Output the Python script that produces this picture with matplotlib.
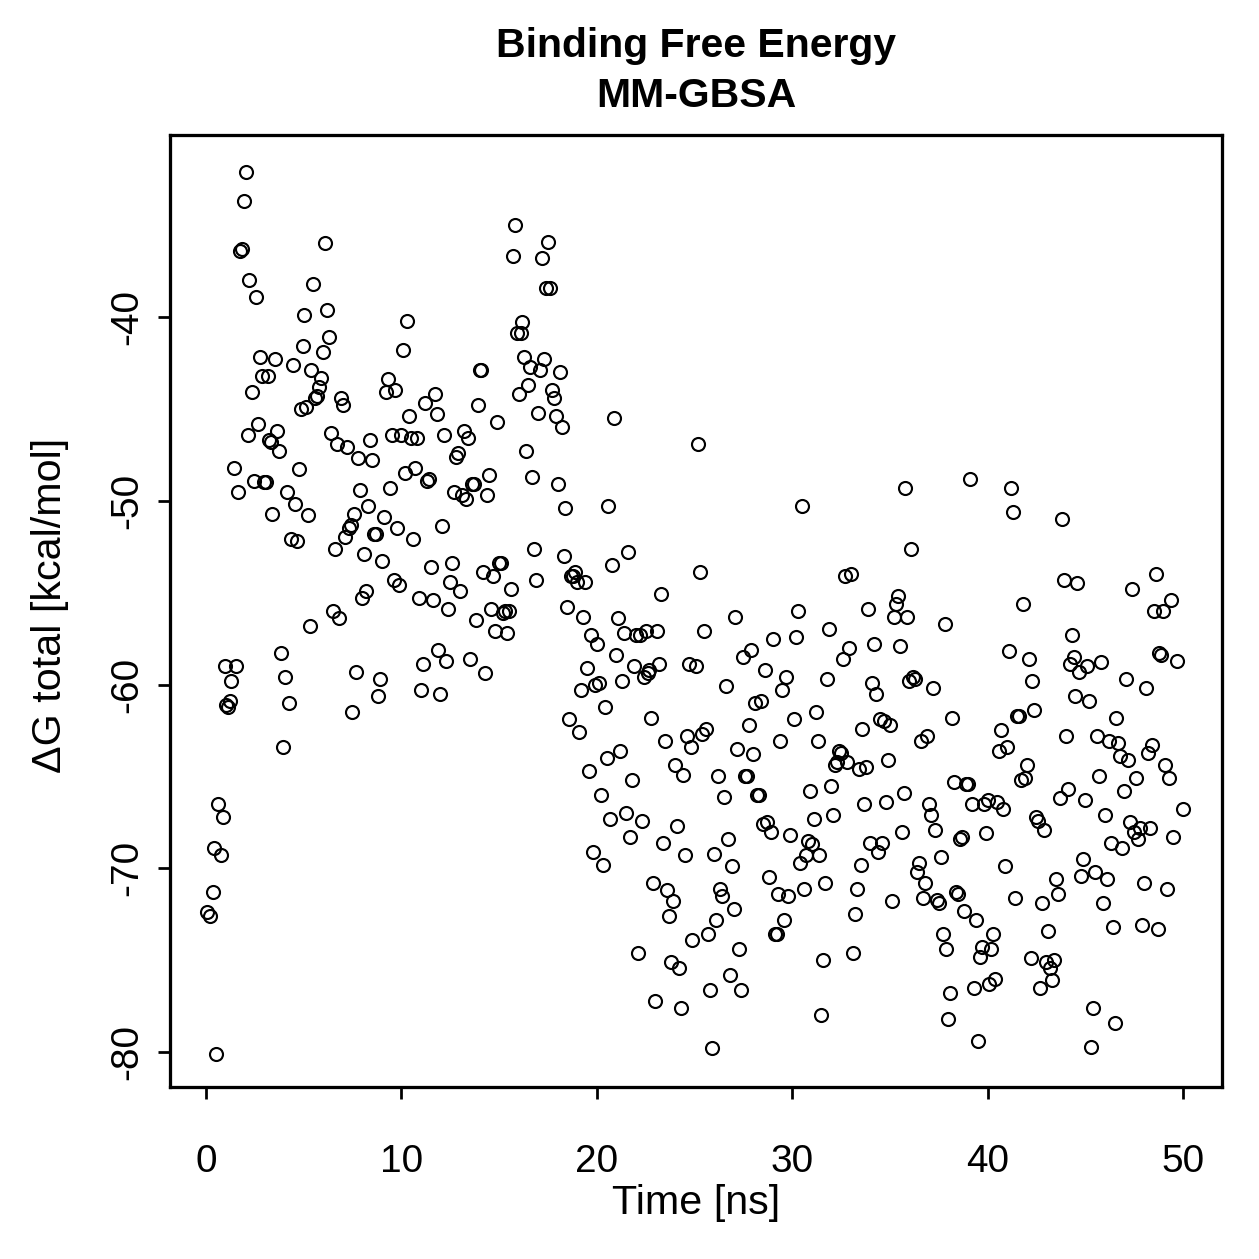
import matplotlib
matplotlib.use("Agg")
import matplotlib.pyplot as plt
import numpy as np

# Time [ns] and dG total [kcal/mol] in 5 ns blocks
t_00 = [0.05, 0.2, 0.35, 0.4, 0.5, 0.6, 0.75, 0.85, 0.95, 1.05, 1.15, 1.25, 1.3, 1.45, 1.55, 1.65,
        1.75, 1.85, 1.95, 2.05, 2.15, 2.2, 2.35, 2.45, 2.55, 2.65, 2.75, 2.85, 2.95, 3.05, 3.15, 3.25,
        3.35, 3.4, 3.55, 3.65, 3.75, 3.85, 3.95, 4.05, 4.15, 4.25, 4.35, 4.45, 4.55, 4.65, 4.75, 4.85, 4.95]
dg_00 = [-72.4, -72.6, -71.3, -68.9, -80.1, -66.5, -69.3, -67.2, -59.0, -61.1, -61.2, -60.9, -59.8, -48.2,
         -59.0, -49.5, -36.4, -36.3, -33.7, -32.1, -46.4, -38.0, -44.1, -48.9, -38.9, -45.8, -42.2, -43.2,
         -49.0, -49.0, -43.2, -46.7, -46.8, -50.7, -42.3, -46.2, -47.3, -58.3, -63.4, -59.6, -49.5, -61.0,
         -52.1, -42.6, -50.2, -52.2, -48.3, -45.0, -41.6]

t_05 = [5.0, 5.1, 5.2, 5.3, 5.4, 5.5, 5.6, 5.7, 5.8, 5.9, 6.0, 6.1, 6.2, 6.3, 6.4, 6.5, 6.6, 6.7, 6.8, 6.9,
        7.0, 7.1, 7.2, 7.3, 7.4, 7.5, 7.6, 7.7, 7.8, 7.9, 8.0, 8.1, 8.2, 8.3, 8.4, 8.5, 8.6, 8.7, 8.8, 8.9,
        9.0, 9.1, 9.2, 9.3, 9.4, 9.5, 9.6, 9.7, 9.8, 9.9]
dg_05 = [-39.9, -44.9, -50.8, -56.8, -42.9, -38.2, -44.4, -44.3, -43.8, -43.3, -41.9, -36.0, -39.6, -41.1,
         -46.3, -56.0, -52.6, -46.9, -56.4, -44.4, -44.8, -52.0, -47.1, -51.5, -51.3, -61.5, -50.7, -59.3,
         -47.7, -49.4, -55.3, -52.9, -54.9, -50.3, -46.7, -47.8, -51.8, -51.8, -60.6, -59.7, -53.3, -50.9,
         -44.1, -43.4, -49.3, -46.4, -54.3, -44.0, -51.5, -54.6]

t_10 = [10.0, 10.1, 10.2, 10.3, 10.4, 10.5, 10.6, 10.7, 10.8, 10.9, 11.0, 11.1, 11.2, 11.3, 11.4, 11.5,
        11.6, 11.7, 11.8, 11.9, 12.0, 12.1, 12.2, 12.3, 12.4, 12.5, 12.6, 12.7, 12.8, 12.9, 13.0, 13.1,
        13.2, 13.3, 13.4, 13.5, 13.6, 13.7, 13.8, 13.9, 14.0, 14.1, 14.2, 14.3, 14.4, 14.5, 14.6, 14.7,
        14.8, 14.9]
dg_10 = [-46.4, -41.8, -48.5, -40.2, -45.4, -46.6, -52.1, -48.2, -46.6, -55.3, -60.3, -58.9, -44.7, -48.9,
         -48.8, -53.6, -55.4, -44.2, -45.3, -58.1, -60.5, -51.4, -46.4, -58.7, -55.9, -54.4, -53.4, -49.5,
         -47.6, -47.4, -54.9, -49.7, -46.2, -49.9, -46.6, -58.6, -49.1, -49.1, -56.5, -44.8, -42.9, -42.9,
         -53.9, -59.4, -49.7, -48.6, -55.9, -54.1, -57.1, -45.7]

t_15 = [15.0, 15.1, 15.2, 15.3, 15.4, 15.5, 15.6, 15.7, 15.8, 15.9, 16.0, 16.1, 16.2, 16.3, 16.4, 16.5,
        16.6, 16.7, 16.8, 16.9, 17.0, 17.1, 17.2, 17.3, 17.4, 17.5, 17.6, 17.7, 17.8, 17.9, 18.0, 18.1,
        18.2, 18.3, 18.4, 18.5, 18.6, 18.7, 18.8, 18.9, 19.0, 19.1, 19.2, 19.3, 19.4, 19.5, 19.6, 19.7,
        19.8, 19.9]
dg_15 = [-53.4, -53.4, -56.1, -56.0, -57.2, -56.0, -54.8, -36.7, -35.0, -40.9, -44.2, -40.9, -40.3, -42.2,
         -47.3, -43.7, -42.7, -48.7, -52.6, -54.3, -45.2, -42.9, -36.8, -42.3, -38.4, -35.9, -38.4, -44.0,
         -44.4, -45.4, -49.1, -43.0, -46.0, -53.0, -50.4, -55.8, -61.9, -54.1, -54.1, -53.9, -54.4, -62.6,
         -60.3, -56.3, -54.4, -59.1, -64.7, -57.3, -69.1, -60.0]

t_20 = [20.0, 20.1, 20.2, 20.3, 20.4, 20.5, 20.6, 20.7, 20.8, 20.9, 21.0, 21.1, 21.2, 21.3, 21.4, 21.5,
        21.6, 21.7, 21.8, 21.9, 22.0, 22.1, 22.2, 22.3, 22.4, 22.5, 22.6, 22.7, 22.8, 22.9, 23.0, 23.1,
        23.2, 23.3, 23.4, 23.5, 23.6, 23.7, 23.8, 23.9, 24.0, 24.1, 24.2, 24.3, 24.4, 24.5, 24.6, 24.7,
        24.8, 24.9]
dg_20 = [-57.8, -59.9, -66.0, -69.8, -61.2, -64.0, -50.3, -67.3, -53.5, -45.5, -58.4, -56.4, -63.6, -59.8,
         -57.2, -67.0, -52.8, -68.3, -65.2, -59.0, -57.3, -74.6, -57.3, -67.4, -59.6, -57.1, -59.4, -59.2,
         -61.8, -70.8, -77.2, -57.1, -58.9, -55.1, -68.6, -63.1, -71.2, -72.6, -75.1, -71.8, -64.4, -67.7,
         -75.4, -77.6, -64.9, -69.3, -62.8, -58.9, -63.4, -73.9]

t_25 = [25.1, 25.2, 25.3, 25.4, 25.5, 25.6, 25.7, 25.8, 25.9, 26.0, 26.1, 26.2, 26.3, 26.4, 26.5, 26.6,
        26.7, 26.8, 26.9, 27.0, 27.1, 27.2, 27.3, 27.4, 27.5, 27.6, 27.7, 27.8, 27.9, 28.0, 28.1, 28.2,
        28.3, 28.4, 28.5, 28.6, 28.7, 28.8, 28.9, 29.0, 29.1, 29.2, 29.3, 29.4, 29.5, 29.6, 29.7, 29.8,
        29.9]
dg_25 = [-59.0, -46.9, -53.9, -62.7, -57.1, -62.4, -73.6, -76.6, -79.8, -69.2, -72.8, -65.0, -71.1, -71.5,
         -66.1, -60.1, -68.4, -75.8, -69.9, -72.2, -56.3, -63.5, -74.4, -76.6, -58.5, -65.0, -65.0, -62.2,
         -58.1, -63.8, -61.0, -66.0, -66.0, -60.9, -67.6, -59.2, -67.5, -70.5, -68.0, -57.5, -73.6, -73.6,
         -71.4, -63.1, -60.3, -72.8, -59.6, -71.5, -68.2]

t_30 = [30.1, 30.2, 30.3, 30.4, 30.5, 30.6, 30.7, 30.8, 30.9, 31.0, 31.1, 31.2, 31.3, 31.4, 31.5, 31.6,
        31.7, 31.8, 31.9, 32.0, 32.1, 32.2, 32.3, 32.4, 32.5, 32.6, 32.7, 32.8, 32.9, 33.0, 33.1, 33.2,
        33.3, 33.4, 33.5, 33.6, 33.7, 33.8, 33.9, 34.0, 34.1, 34.2, 34.3, 34.4, 34.5, 34.6, 34.7, 34.8,
        34.9]
dg_30 = [-61.9, -57.4, -56.0, -69.7, -50.3, -71.1, -69.3, -68.5, -65.8, -68.7, -67.3, -61.5, -63.1, -69.3,
         -78.0, -75.0, -70.8, -59.7, -57.0, -65.5, -67.1, -64.4, -64.2, -63.6, -63.7, -58.6, -54.1, -64.2,
         -58.0, -54.0, -74.6, -72.5, -71.1, -64.6, -69.8, -62.4, -66.5, -64.5, -55.9, -68.6, -59.9, -57.8,
         -60.5, -69.1, -61.9, -68.6, -62.0, -66.4, -64.1]

t_35 = [35.0, 35.1, 35.2, 35.3, 35.4, 35.5, 35.6, 35.7, 35.8, 35.9, 36.0, 36.1, 36.2, 36.3, 36.4, 36.5,
        36.6, 36.7, 36.8, 36.9, 37.0, 37.1, 37.2, 37.3, 37.4, 37.5, 37.6, 37.7, 37.8, 37.9, 38.0, 38.1,
        38.2, 38.3, 38.4, 38.5, 38.6, 38.7, 38.8, 38.9, 39.0, 39.1, 39.2, 39.3, 39.4, 39.5, 39.6, 39.7,
        39.8, 39.9]
dg_35 = [-62.2, -71.8, -56.3, -55.6, -55.2, -57.9, -68.0, -65.9, -49.3, -56.3, -59.8, -52.6, -59.6, -59.7,
         -70.2, -69.7, -63.1, -71.6, -70.8, -62.8, -66.5, -67.1, -60.2, -67.9, -71.7, -71.9, -69.4, -73.6,
         -56.7, -74.4, -78.2, -76.8, -61.8, -65.3, -71.3, -71.4, -68.4, -68.3, -72.3, -65.4, -65.4, -48.8,
         -66.5, -76.5, -72.8, -79.4, -74.8, -74.3, -66.5, -68.1]

t_40 = [40.0, 40.1, 40.2, 40.3, 40.4, 40.5, 40.6, 40.7, 40.8, 40.9, 41.0, 41.1, 41.2, 41.3, 41.4, 41.5,
        41.6, 41.7, 41.8, 41.9, 42.0, 42.1, 42.2, 42.3, 42.4, 42.5, 42.6, 42.7, 42.8, 42.9, 43.0, 43.1,
        43.2, 43.3, 43.4, 43.5, 43.6, 43.7, 43.8, 43.9, 44.0, 44.1, 44.2, 44.3, 44.4, 44.5, 44.6, 44.7,
        44.8, 44.9]
dg_40 = [-66.3, -76.3, -74.4, -73.6, -76.0, -66.4, -63.6, -62.5, -66.8, -69.9, -63.4, -58.2, -49.3, -50.6,
         -71.6, -61.7, -61.7, -65.2, -55.6, -65.1, -64.4, -58.6, -74.9, -59.8, -61.4, -67.2, -67.4, -76.5,
         -71.9, -67.9, -75.1, -73.4, -75.4, -76.1, -75.0, -70.6, -71.4, -66.2, -51.0, -54.3, -62.8, -65.7,
         -58.9, -57.3, -58.5, -60.6, -54.5, -59.3, -70.4, -69.5]

t_45 = [45.0, 45.1, 45.2, 45.3, 45.4, 45.5, 45.6, 45.7, 45.8, 45.9, 46.0, 46.1, 46.2, 46.3, 46.4, 46.5,
        46.6, 46.7, 46.8, 46.9, 47.0, 47.1, 47.2, 47.3, 47.4, 47.5, 47.6, 47.7, 47.8, 47.9, 48.0, 48.1,
        48.2, 48.3, 48.4, 48.5, 48.6, 48.7, 48.8, 48.9, 49.0, 49.1, 49.2, 49.3, 49.4, 49.5, 49.7, 50.0]
dg_45 = [-66.3, -59.0, -60.9, -79.7, -77.6, -70.2, -62.8, -65.0, -58.8, -71.9, -67.1, -70.6, -63.1, -68.6,
         -73.2, -78.4, -61.8, -63.2, -63.9, -68.9, -65.8, -59.7, -64.1, -67.5, -54.8, -68.0, -65.1, -68.4,
         -67.8, -73.1, -70.8, -60.2, -63.7, -67.8, -63.3, -56.0, -54.0, -73.3, -58.3, -58.4, -56.0, -64.4,
         -71.1, -65.1, -55.4, -68.3, -58.7, -66.8]

time = np.concatenate([t_00, t_05, t_10, t_15, t_20, t_25, t_30, t_35, t_40, t_45])
dg = np.concatenate([dg_00, dg_05, dg_10, dg_15, dg_20, dg_25, dg_30, dg_35, dg_40, dg_45])

plt.rcParams['font.family'] = ['Liberation Sans', 'DejaVu Sans']
plt.rcParams['axes.unicode_minus'] = False

W, H = 1259, 1259
fig = plt.figure(figsize=(W / 180, H / 180), dpi=180)
ax = fig.add_axes([170 / W, 1 - 1087 / H, (1222 - 170) / W, (1087 - 135) / H])

ax.plot(time, dg, linestyle='none', marker='o', ms=5.2, mfc='none', mec='black', mew=0.85)

ax.set_xlim(-1.84, 52.0)
ax.set_ylim(-81.9, -30.1)
ax.set_xticks([0, 10, 20, 30, 40, 50])
ax.set_yticks([-80, -70, -60, -50, -40])
for s in ax.spines.values():
    s.set_linewidth(1.3)
ax.tick_params(direction='out', length=4.8, width=1.1, labelsize=15.5)
ax.tick_params(axis='x', pad=18)
ax.tick_params(axis='y', pad=5)
for lbl in ax.get_yticklabels():
    lbl.set_rotation(90)
    lbl.set_va('center')

fig.text(696 / W, 1 - 1203 / H, "Time [ns]", ha='center', va='center', fontsize=16.5)
fig.text(50 / W, 1 - 605 / H, "ΔG total [kcal/mol]", ha='center', va='center', rotation=90, fontsize=16.5)
fig.text(696 / W, 1 - 46 / H, "Binding Free Energy", ha='center', va='center', fontsize=16.4, fontweight='bold')
fig.text(696 / W, 1 - 96 / H, "MM-GBSA", ha='center', va='center', fontsize=16.4, fontweight='bold')

fig.savefig("out.png", dpi=180)
